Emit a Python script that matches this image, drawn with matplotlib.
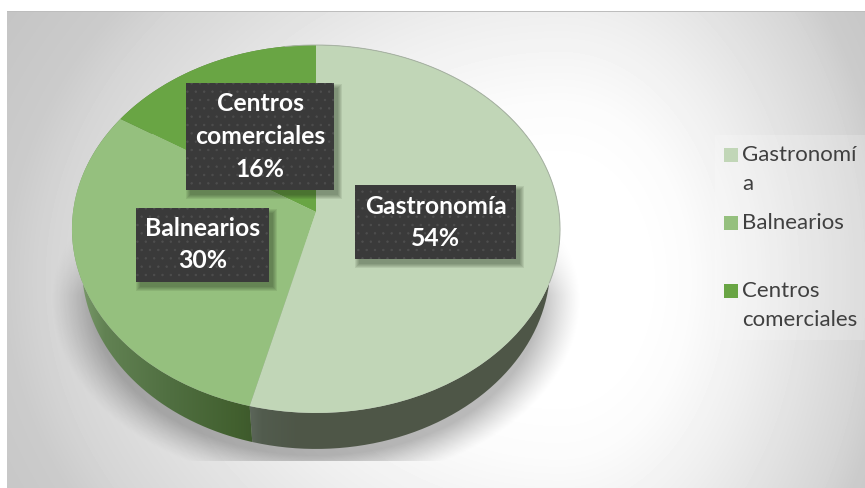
import numpy as np
import matplotlib
matplotlib.use("Agg")
import matplotlib.pyplot as plt
from matplotlib.patches import Rectangle, PathPatch
from matplotlib.path import Path
from matplotlib.transforms import Transform

categories = ["Gastronomía", "Balnearios", "Centros comerciales"]
values = [54, 30, 16]
legend_labels = ["Gastronomí\na", "Balnearios", "Centros\ncomerciales"]
data_labels = ["Gastronomía\n54%", "Balnearios\n30%", "Centros\ncomerciales\n16%"]
colors = ["#c1d6b7", "#95c07e", "#69a544"]

W, H = 865, 488
CX, APEX, A, B, K = 316.0, 212.0, 243.0, 182.4, 0.0923


class Tilt(Transform):
    """Perspective view of the unit pie disc, to pixel coordinates."""
    input_dims = output_dims = 2
    is_affine = False
    has_inverse = False

    def transform_non_affine(self, values):
        v = np.asarray(values, float)
        d = 1 + K * v[:, 1]
        return np.column_stack([CX + A * v[:, 0] / d, APEX - B * v[:, 1] / d])


tilt = Tilt()


def rim(t0, t1):
    th = np.radians(np.linspace(t0, t1, 200))
    return tilt.transform_non_affine(np.column_stack([np.sin(th), np.cos(th)]))


plt.rcParams["font.family"] = ["Lato", "DejaVu Sans"]
plt.rcParams["hatch.linewidth"] = 0.5
fig = plt.figure(figsize=(W / 100, H / 100), dpi=100, facecolor="white")
ax = fig.add_axes([0, 0, 1, 1])

# background
yy, xx = np.mgrid[0:H, 0:W] + 0.5
u = (xx - 560) / np.where(xx < 560, 555, 330)
v = (yy - 280) / 450
t = np.hypot(u, v)
bg = np.interp(t, [0.25, 0.4, 0.6, 0.92, 1.0, 1.2], [255, 251, 238, 213, 203, 195]) / 255
mask = (xx >= 7) & (yy >= 11)
bg = np.where(mask, bg, 1.0)
bg[11, 7:] = 0.74
ax.imshow(bg, cmap="gray", vmin=0, vmax=1, extent=(0, W, H, 0), aspect="auto",
          interpolation="nearest", zorder=0)

# legend panel
ax.add_patch(Rectangle((715, 135), 150, 205, fc="white", ec="none", alpha=0.2, zorder=1))

# cast shadow
d = np.hypot((xx - 316) / 265, (yy - 300) / 185)
sa = np.clip((1.0 - d) / 0.16, 0, 1) ** 1.2 * 0.27
sa *= np.clip((yy - 225) / 70, 0, 1) * (yy < 461)
rgba = np.zeros((H, W, 4))
rgba[..., 3] = sa
ax.imshow(rgba, extent=(0, W, H, 0), aspect="auto", zorder=2)

# pie top
wedges, _ = ax.pie(values, colors=colors, startangle=90, counterclock=False, radius=1)
for w in wedges:
    w.set_transform(tilt + ax.transData)
    w.set_zorder(5)
    w.set_linewidth(0)

# pie side, one piece per slice
cum = np.cumsum([0] + values) / np.sum(values) * 360
side_stops = [
    ([250, 262, 300, 580], ["#5c665a", "#525c4e", "#4e5647", "#4e5647"]),
    ([75, 105, 170, 235, 252], ["#7f9f70", "#628253", "#506f41", "#42602f", "#3e5a2c"]),
    ([0, 865], ["#5c8040", "#5c8040"]),
]
for i in range(3):
    top = rim(cum[i], cum[i + 1])
    low = np.column_stack([CX + (top[:, 0] - CX) * 0.96, top[:, 1] + 36])
    poly = np.vstack([top, low[::-1]])
    stops, cols = side_stops[i]
    rgb = np.array([matplotlib.colors.to_rgb(c) for c in cols])
    xs = np.arange(W) + 0.5
    img = np.stack([np.interp(xs, stops, rgb[:, c]) for c in range(3)], -1)[None, ...]
    im = ax.imshow(img, extent=(0, W, H, 0), aspect="auto", zorder=4)
    im.set_clip_path(PathPatch(Path(poly, closed=False), transform=ax.transData))

# thin rim highlight
r = rim(-8, 112)
ax.plot(r[:, 0], r[:, 1], color="#a8b3a4", lw=0.7, zorder=6)

# data labels
boxes = [(355, 185, 161, 74), (136, 208, 133, 74), (186, 83, 148, 107)]
spacing = [32, 32, 33]
for lab, (x, y, w, h), sp in zip(data_labels, boxes, spacing):
    for p in range(5):
        ax.add_patch(Rectangle((x + 4 - p, y + 5 - p), w + 2 * p, h + 2 * p,
                               fc="#1c2a14", ec="none", alpha=0.09, zorder=7))
    ax.add_patch(Rectangle((x, y), w, h, fc="#3a3a3a", ec="none", zorder=8))
    ax.add_patch(Rectangle((x, y), w, h, fc="none", ec="#4e4e4e", lw=0, hatch="..", zorder=9))
    lines = lab.split("\n")
    y0 = y + h / 2 - (len(lines) - 1) * sp / 2
    for j, ln in enumerate(lines):
        ax.text(x + w / 2, y0 + j * sp, ln, color="white", fontsize=17.8, fontweight="bold",
                ha="center", va="center", zorder=10)

# legend
leg_y = [155, 223, 291]
for lab, col, y in zip(legend_labels, colors, leg_y):
    ax.add_patch(Rectangle((724, y - 7), 14, 14, fc=col, ec="none", zorder=3))
    for j, ln in enumerate(lab.split("\n")):
        ax.text(742, y + j * 29, ln, color="#404040", fontsize=16, ha="left", va="center", zorder=3)

ax.set_aspect("auto")
ax.set_xlim(0, W)
ax.set_ylim(H, 0)
ax.axis("off")
fig.savefig("out.png", dpi=100)
